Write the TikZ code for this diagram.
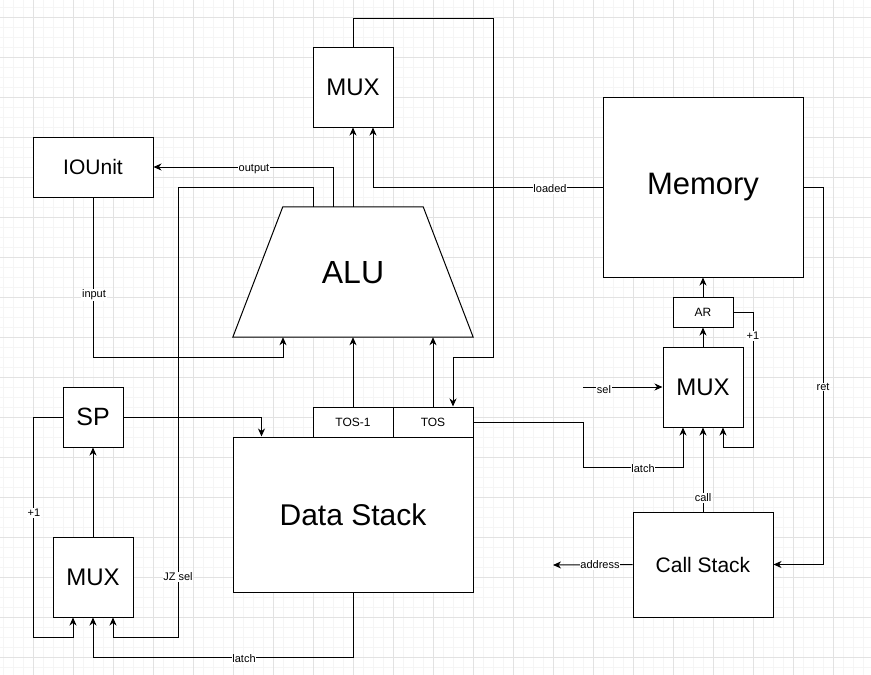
\documentclass[tikz,border=0pt]{standalone}
\usepackage{fontspec}
\setmainfont{Liberation Sans}
\usetikzlibrary{arrows.meta,calc}
\definecolor{gridminor}{RGB}{245,245,245}
\definecolor{gridmajor}{RGB}{226,226,226}
\begin{document}
\begin{tikzpicture}[x=1pt,y=-1pt,
  box/.style={draw,line width=1pt,fill=white,inner sep=0pt,align=center},
  conn/.style={line width=1pt,-{Stealth[length=8pt,width=7pt,inset=2.5pt]}},
  lbl/.style={fill=white,inner sep=0.8pt,font=\fontsize{11}{13}\selectfont}]
\useasboundingbox (0,0) rectangle (871,675);
\fill[white] (0,0) rectangle (871,675);
\foreach \x in {3,13,...,871} \draw[gridminor,line width=0.8pt] (\x,0) -- (\x,675);
\foreach \y in {7,17,...,675} \draw[gridminor,line width=0.8pt] (0,\y) -- (871,\y);
\foreach \x in {33,73,...,871} \draw[gridmajor,line width=0.8pt] (\x,0) -- (\x,675);
\foreach \y in {17,57,...,675} \draw[gridmajor,line width=0.8pt] (0,\y) -- (871,\y);

% nodes
\node[box,minimum width=80pt,minimum height=80pt,font=\fontsize{24}{28}\selectfont] (topmux) at (353,87) {MUX};
\node[box,minimum width=120pt,minimum height=60pt,font=\fontsize{21}{25}\selectfont] (iounit) at (93,167) {IOUnit};
\node[minimum width=240pt,minimum height=130pt,inner sep=0pt] (alushape) at (353,272) {};
\filldraw[fill=white,line width=1pt] ($(alushape.north west)+(50,0)$) -- ($(alushape.north east)+(-50,0)$) -- (alushape.south east) -- (alushape.south west) -- cycle;
\node[inner sep=0pt,font=\fontsize{32}{36}\selectfont] (alu) at (353,273) {ALU};
\node[box,minimum width=200pt,minimum height=180pt,font=\fontsize{31}{35}\selectfont] (mem) at (703,187) {Memory};
\node[box,minimum width=60pt,minimum height=30pt,font=\fontsize{12}{14}\selectfont] (ar) at (703,312) {AR};
\node[box,minimum width=80pt,minimum height=80pt,font=\fontsize{24}{28}\selectfont] (rmux) at (703,387) {MUX};
\node[box,minimum width=140pt,minimum height=105pt,font=\fontsize{21}{25}\selectfont] (cs) at (703,564.5) {Call Stack};
\node[box,minimum width=240pt,minimum height=155pt,font=\fontsize{30}{34}\selectfont] (ds) at (353,514.5) {Data Stack};
\node[box,minimum width=80pt,minimum height=30pt,font=\fontsize{12}{14}\selectfont] (tos1) at (353,422) {TOS-1};
\node[box,minimum width=80pt,minimum height=30pt,font=\fontsize{12}{14}\selectfont] (tos) at (433,422) {TOS};
\node[box,minimum width=60pt,minimum height=60pt,font=\fontsize{25}{29}\selectfont] (sp) at (93,417) {SP};
\node[box,minimum width=80pt,minimum height=80pt,font=\fontsize{24}{28}\selectfont] (bmux) at (93,577) {MUX};
\coordinate (selin) at (583,387);
\coordinate (addr) at (553,565);

% connectors
\draw[conn] (alushape.north) -- (topmux.south);
\draw[conn] (mem.west) -| ($(topmux.south)+(20,0)$);
\draw[conn] ($(alushape.north)+(-20,0)$) |- (iounit.east);
\draw[conn] ($(alushape.north)+(-40,0)$) -- ++(0,-19) -| (178,637) -| ($(bmux.south)+(20,0)$);
\draw[conn] (topmux.north) -- (353,18) -- (493,18) -- (493,357) -| ($(tos.north)+(20,0)$);
\draw[conn] (iounit.south) |- (283,357) -- ($(alushape.south)+(-70,0)$);
\draw[conn] (tos1.north) -- (alushape.south);
\draw[conn] (tos.north) -- (tos.north |- alushape.south);
\draw[conn] (sp.east) -| ($(ds.north west)+(29,0)$);
\draw[conn] (sp.west) -| (33,637) -| ($(bmux.south)+(-20,0)$);
\draw[conn] (bmux.north) -- (sp.south);
\draw[conn] (ds.south) -- (353,657) -| (bmux.south);
\draw[conn] (ar.north) -- (mem.south);
\draw[conn] (rmux.north) -- (ar.south);
\draw[conn] (ar.east) -| (753,447) -| ($(rmux.south)+(20,0)$);
\draw[conn] (selin) -- (rmux.west);
\draw[conn] (tos.east) -| (583,467) -| ($(rmux.south)+(-20,0)$);
\draw[conn] (cs.north) -- (rmux.south);
\draw[conn] (mem.east) -| ($(cs.east)+(50,0)$) -- (cs.east);
\draw[conn] (cs.west) -- (addr);

% labels
\node[lbl] (lout) at (254,169) {output};
\node[lbl] (lload) at (550,189) {loaded};
\node[lbl] (lin) at (94,295) {input};
\node[lbl] (ljz) at (178,577) {JZ sel};
\node[lbl] (lp1) at (34,513) {+1};
\node[lbl] (llatch) at (244,659) {latch};
\node[lbl] (lp2) at (753,336) {+1};
\node[lbl] (lsel) at (604,390) {sel};
\node[lbl] (llatch2) at (643,469) {latch};
\node[lbl] (lcall) at (703,498) {call};
\node[lbl] (lret) at (823,387) {ret};
\node[lbl] (laddr) at (600,565) {address};
\end{tikzpicture}
\end{document}
